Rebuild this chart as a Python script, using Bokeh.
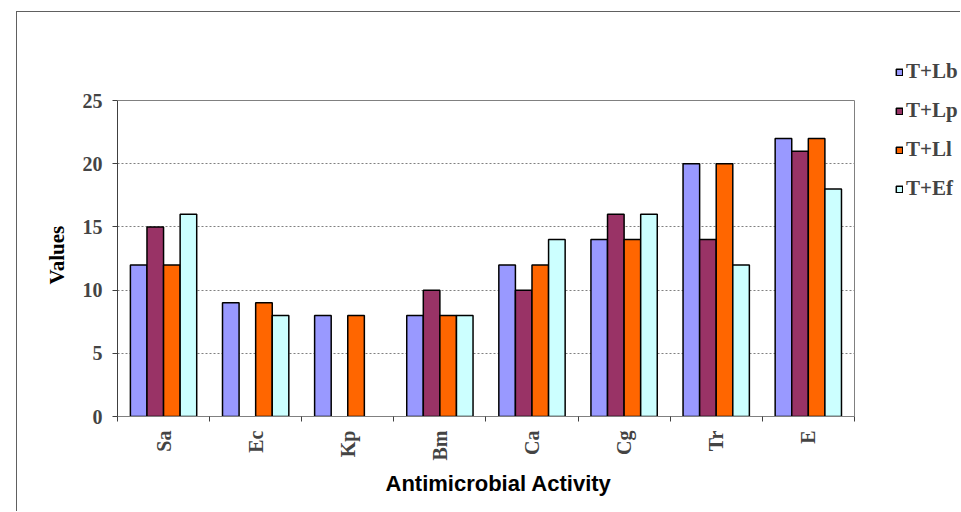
import math
from bokeh.plotting import figure
from bokeh.models import (FixedTicker, Legend, LegendItem, ColumnDataSource, Range1d,
                          Spacer, Title, Grid)
from bokeh.layouts import row, column
from bokeh.embed import file_html
from bokeh.resources import INLINE

categories = ["Sa", "Ec", "Kp", "Bm", "Ca", "Cg", "Tr", "E"]
series_names = ["T+Lb", "T+Lp", "T+Ll", "T+Ef"]
t_lb = [12, 9, 8, 8, 12, 14, 20, 22]
t_lp = [15, 0, 0, 10, 10, 16, 14, 21]
t_ll = [12, 9, 8, 8, 12, 14, 20, 22]
t_ef = [16, 8, 0, 8, 14, 16, 12, 18]
series_values = [t_lb, t_lp, t_ll, t_ef]
colors = ["#9999FF", "#993366", "#FF6600", "#CCFFFF"]
y_ticks = [0, 5, 10, 15, 20, 25]

positions = [i + 1 for i in range(len(categories))]
boundaries = [i + 0.5 for i in range(len(categories) + 1)]
bar_w = 0.18
offsets = [-0.27, -0.09, 0.09, 0.27]

SERIF = "Liberation Serif"
SANS = "Liberation Sans"
BORDER = "1px solid #606060"
GRID_COLOR = "#808080"

# plot-area size in pixels; the frame is larger so the legend fits inside it
PLOT_W, PLOT_H = 736, 315
FRAME_W, FRAME_H = 843, 370
x_lo, x_hi = boundaries[0], boundaries[-1]
y_lo, y_hi = y_ticks[0], y_ticks[-1]
px_per_x = PLOT_W / (x_hi - x_lo)
px_per_y = PLOT_H / (y_hi - y_lo)

p = figure(frame_width=FRAME_W, frame_height=FRAME_H,
           x_range=Range1d(x_lo, x_lo + FRAME_W / px_per_x),
           y_range=Range1d(y_lo, y_lo + FRAME_H / px_per_y),
           output_backend="svg", toolbar_location=None,
           min_border_left=100, min_border_right=0, min_border_top=33, min_border_bottom=96)
p.styles = {"border-left": BORDER, "border-top": BORDER}
p.background_fill_color = "white"
p.border_fill_color = "white"
p.outline_line_color = None

renderers = []
for name, vals, col, off in zip(series_names, series_values, colors, offsets):
    xs = [x + off for x, v in zip(positions, vals) if v > 0]
    ys = [v for v in vals if v > 0]
    src = ColumnDataSource(dict(x=xs, top=ys))
    r = p.vbar(x="x", top="top", width=bar_w, bottom=0, source=src,
               fill_color=col, line_color="#000000", line_width=1.5)
    renderers.append(r)

# grid lines limited to the plot area
p.xgrid.visible = False
p.ygrid.visible = False


def add_grid(dim, ticks, cross, dash):
    try:
        g = Grid(dimension=dim, ticker=FixedTicker(ticks=ticks), cross_bounds=cross,
                 grid_line_color=GRID_COLOR, grid_line_dash=dash, grid_line_width=1)
        p.add_layout(g)
    except Exception:
        if dim == 1:
            p.segment(x0=[cross[0]] * len(ticks), x1=[cross[1]] * len(ticks), y0=ticks, y1=ticks,
                      line_color=GRID_COLOR, line_dash=dash, line_width=1)
        else:
            p.segment(y0=[cross[0]] * len(ticks), y1=[cross[1]] * len(ticks), x0=ticks, x1=ticks,
                      line_color=GRID_COLOR, line_dash=dash, line_width=1)


add_grid(1, y_ticks[1:-1], (x_lo, x_hi), "2 2")
add_grid(1, [y_hi], (x_lo, x_hi), "solid")
add_grid(0, [x_hi], (y_lo, y_hi), "solid")

# y axis
ya = p.yaxis[0]
ya.ticker = FixedTicker(ticks=y_ticks)
ya.bounds = (y_lo, y_hi)
ya.major_label_text_font = SERIF
ya.major_label_text_font_style = "bold"
ya.major_label_text_font_size = "20px"
ya.major_label_standoff = 10
ya.major_tick_out = 5
ya.major_tick_in = 0
ya.minor_tick_line_color = None
ya.axis_line_color = "#404040"
ya.major_tick_line_color = "#404040"

# x axis
xa = p.xaxis[0]
xa.ticker = FixedTicker(ticks=positions, minor_ticks=boundaries)
xa.bounds = (x_lo, x_hi)
xa.major_label_overrides = {pos: cat for pos, cat in zip(positions, categories)}
xa.major_label_orientation = math.pi / 2
xa.major_label_text_font = SERIF
xa.major_label_text_font_style = "bold"
xa.major_label_text_font_size = "20px"
xa.major_label_standoff = 9
xa.major_tick_out = 0
xa.major_tick_in = 0
xa.minor_tick_out = 5
xa.minor_tick_in = 0
xa.minor_tick_line_color = "#404040"
xa.axis_line_color = "#808080"

# axis titles
p.add_layout(Title(text="Antimicrobial Activity", align="left", offset=268, standoff=11,
                   text_font=SANS, text_font_style="bold", text_font_size="22px",
                   text_color="#000000"), "below")
p.add_layout(Title(text="Values", align="left", offset=132, standoff=22,
                   text_font=SERIF, text_font_style="bold", text_font_size="21px",
                   text_color="#000000"), "left")

legend = Legend(items=[LegendItem(label=n, renderers=[r]) for n, r in zip(series_names, renderers)],
                location=(778, 215), orientation="vertical",
                border_line_color=None, background_fill_alpha=0,
                glyph_width=8, glyph_height=8, label_height=21, label_standoff=3,
                spacing=14, padding=0, margin=0,
                label_text_font=SERIF, label_text_font_style="bold",
                label_text_font_size="21px")
p.add_layout(legend)

layout = column(Spacer(height=11), row(Spacer(width=16), p))
open("out.html", "w").write(file_html(layout, INLINE))
